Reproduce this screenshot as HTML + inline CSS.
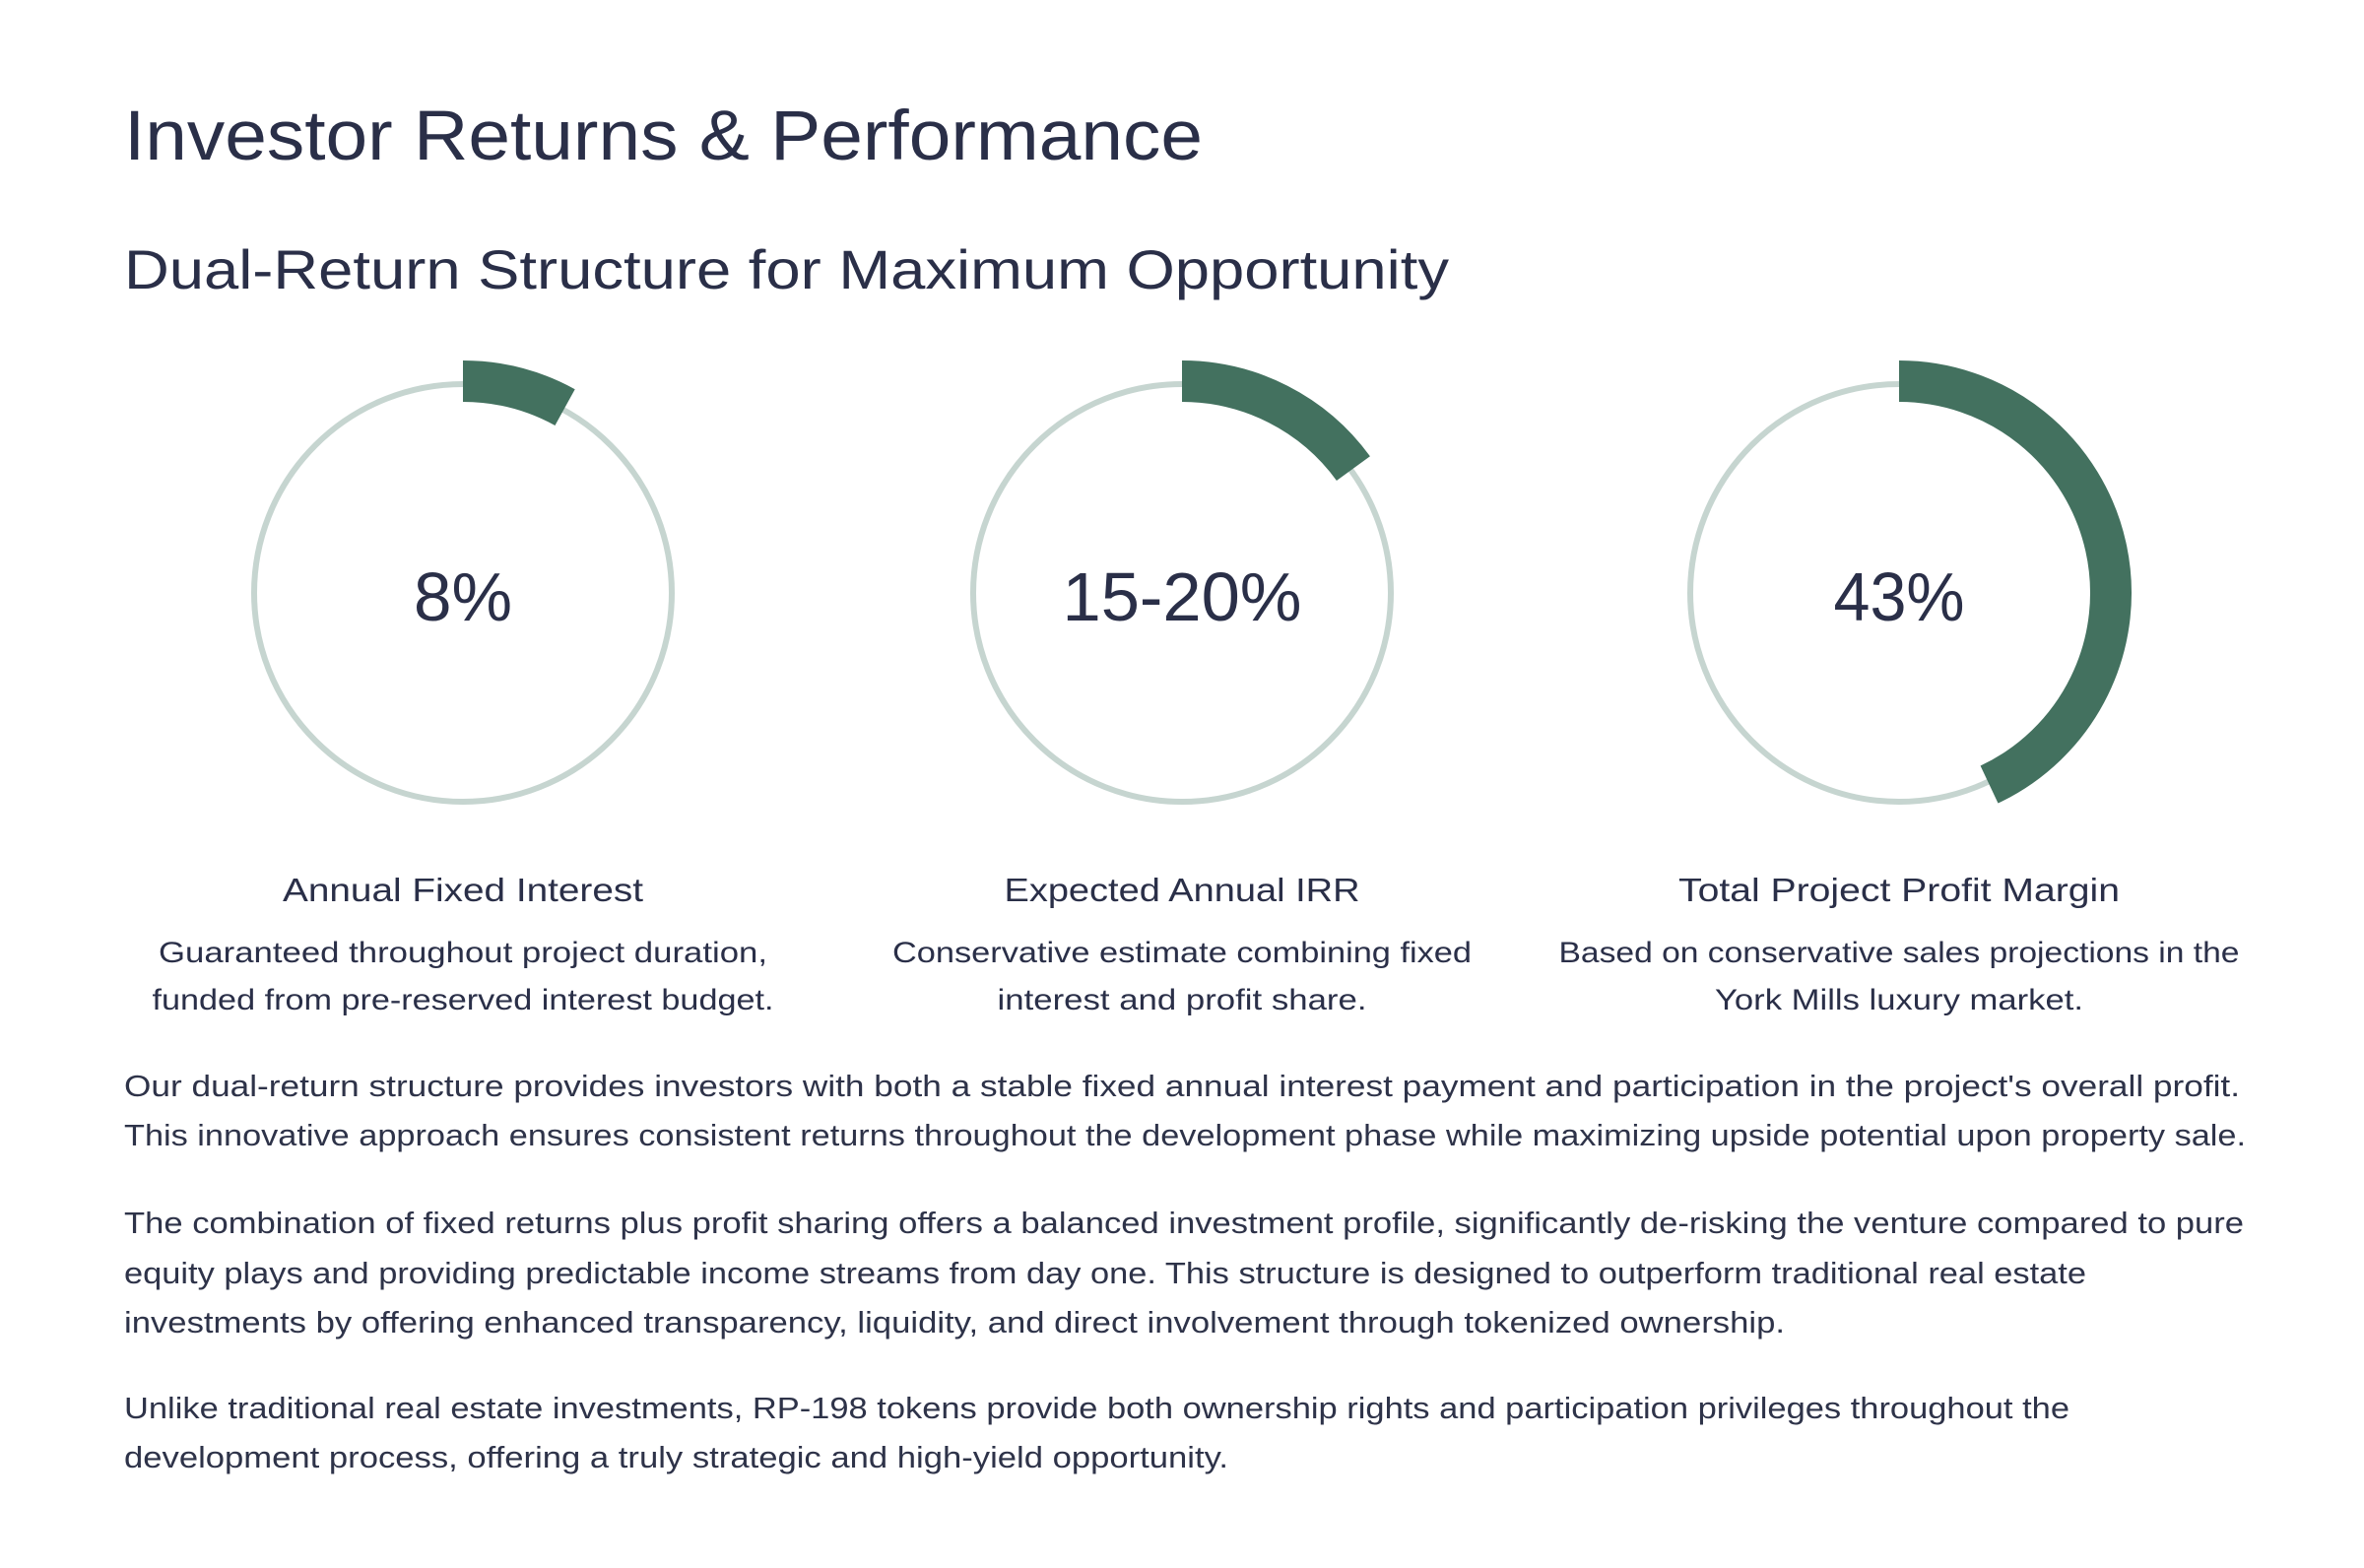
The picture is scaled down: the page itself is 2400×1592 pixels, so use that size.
<!DOCTYPE html>
<html><head><meta charset="utf-8"><style>
html,body{margin:0;padding:0;background:#fff;}
svg{display:block;}
text{font-family:"Liberation Sans",sans-serif;fill:#2a2f48;}
.p{font-size:31px;fill:#2e3349;}
</style></head><body>
<svg id="chart" width="2400" height="1592" viewBox="0 0 2400 1592">
<text x="126" y="162" font-size="71" textLength="1095" lengthAdjust="spacingAndGlyphs">Investor Returns &amp; Performance</text>
<text x="126" y="293" font-size="56" textLength="1345" lengthAdjust="spacingAndGlyphs">Dual-Return Structure for Maximum Opportunity</text>
<g id="gauges"></g>
<g>
<text class="p" x="126" y="1113" textLength="2148" lengthAdjust="spacingAndGlyphs">Our dual-return structure provides investors with both a stable fixed annual interest payment and participation in the project's overall profit.</text>
<text class="p" x="126" y="1163" textLength="2154" lengthAdjust="spacingAndGlyphs">This innovative approach ensures consistent returns throughout the development phase while maximizing upside potential upon property sale.</text>
<text class="p" x="126" y="1252" textLength="2152" lengthAdjust="spacingAndGlyphs">The combination of fixed returns plus profit sharing offers a balanced investment profile, significantly de-risking the venture compared to pure</text>
<text class="p" x="126" y="1303" textLength="1992" lengthAdjust="spacingAndGlyphs">equity plays and providing predictable income streams from day one. This structure is designed to outperform traditional real estate</text>
<text class="p" x="126" y="1353" textLength="1686" lengthAdjust="spacingAndGlyphs">investments by offering enhanced transparency, liquidity, and direct involvement through tokenized ownership.</text>
<text class="p" x="126" y="1440" textLength="1975" lengthAdjust="spacingAndGlyphs">Unlike traditional real estate investments, RP-198 tokens provide both ownership rights and participation privileges throughout the</text>
<text class="p" x="126" y="1490" textLength="1121" lengthAdjust="spacingAndGlyphs">development process, offering a truly strategic and high-yield opportunity.</text>
</g>
</svg>
<script>
const gaugeLabels = ["Annual Fixed Interest", "Expected Annual IRR", "Total Project Profit Margin"];
const gaugeValues = [8, 15, 43];
const gaugeDisplay = ["8%", "15-20%", "43%"];
const descLine1 = ["Guaranteed throughout project duration,", "Conservative estimate combining fixed", "Based on conservative sales projections in the"];
const descLine2 = ["funded from pre-reserved interest budget.", "interest and profit share.", "York Mills luxury market."];

const NS = "http://www.w3.org/2000/svg";
const g = document.getElementById("gauges");
const cxs = [470, 1200, 1928], cy = 602;
const dispW = [100, 243, 133], labW = [366, 361, 448];
const d1W = [618, 588, 691], d2W = [631, 375, 374];
function mk(tag, attrs) { const e = document.createElementNS(NS, tag); for (const k in attrs) e.setAttribute(k, attrs[k]); return e; }
function angle(v) { return v / 100 * 2 * Math.PI; }
gaugeValues.forEach((v, i) => {
  const cx = cxs[i];
  const ring = mk("circle", {cx: cx, cy: cy, r: 212, fill: "none", stroke: "#c6d5d0", "stroke-width": 6});
  
  
  g.appendChild(ring);
  const r = 215, a = angle(v);
  const x1 = cx, y1 = cy - r, x2 = cx + r * Math.sin(a), y2 = cy - r * Math.cos(a);
  const arc = mk("path", {d: `M${x1} ${y1} A${r} ${r} 0 ${a > Math.PI ? 1 : 0} 1 ${x2} ${y2}`, fill: "none", stroke: "#43715f", "stroke-width": 42});
  
  
  g.appendChild(arc);
  const t = mk("text", {x: cx, y: 630, "font-size": 70, "text-anchor": "middle", textLength: dispW[i], lengthAdjust: "spacingAndGlyphs"});
  t.textContent = gaugeDisplay[i];
  
  
  g.appendChild(t);
  const l = mk("text", {x: cx, y: 915, "font-size": 33, "text-anchor": "middle", textLength: labW[i], lengthAdjust: "spacingAndGlyphs"});
  l.textContent = gaugeLabels[i];
  
  
  g.appendChild(l);
  const a1 = mk("text", {x: cx, y: 977, "font-size": 30, "text-anchor": "middle", fill: "#2e3349", textLength: d1W[i], lengthAdjust: "spacingAndGlyphs"});
  a1.textContent = descLine1[i];
  
  
  g.appendChild(a1);
  const a2 = mk("text", {x: cx, y: 1025, "font-size": 30, "text-anchor": "middle", fill: "#2e3349", textLength: d2W[i], lengthAdjust: "spacingAndGlyphs"});
  a2.textContent = descLine2[i];
  
  
  g.appendChild(a2);
});
</script>
</body></html>
